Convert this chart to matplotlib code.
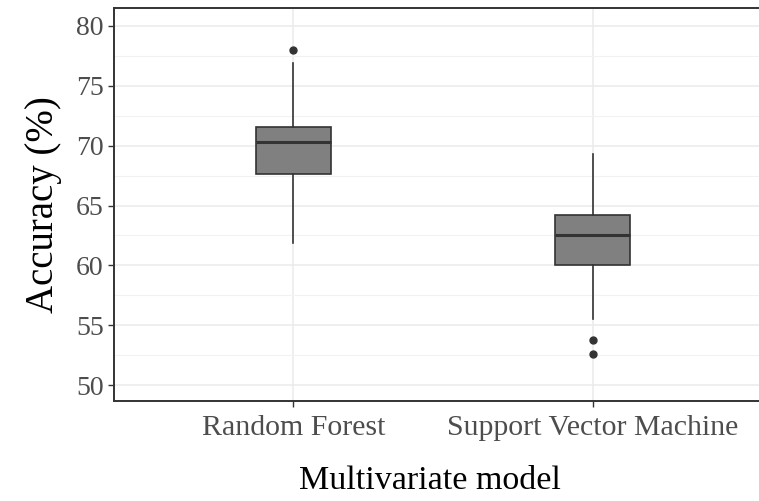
import matplotlib
matplotlib.use('Agg')
import matplotlib.pyplot as plt
from matplotlib.ticker import MultipleLocator

#%% data
models = ['Random Forest', 'Support Vector Machine']
q1 = [67.6, 60.0]
med = [70.3, 62.5]
q3 = [71.6, 64.2]
whislo = [61.9, 55.5]
whishi = [76.9, 69.3]
fliers = [[78.0], [53.8, 52.6]]
yticks = [50, 55, 60, 65, 70, 75, 80]

stats = []
for i in range(len(models)):
    stats.append(dict(label=models[i], q1=q1[i], med=med[i], q3=q3[i],
                      whislo=whislo[i], whishi=whishi[i], fliers=fliers[i]))

#%% plot
plt.rcParams['font.family'] = 'Liberation Serif'

fig = plt.figure(figsize=(7.59, 5.01), dpi=100)
# right edge of the panel is cut off in the original
ax = fig.add_axes([114/759, 1 - 401/501, (772 - 114)/759, (401 - 8)/501])

ax.bxp(stats, positions=[1, 2], widths=0.25, patch_artist=True,
       boxprops=dict(facecolor='#808080', edgecolor='#333333', linewidth=1.2),
       medianprops=dict(color='#333333', linewidth=2.2),
       whiskerprops=dict(color='#333333', linewidth=1.2),
       capprops=dict(linewidth=0),
       flierprops=dict(marker='o', markerfacecolor='#333333', markeredgecolor='#333333',
                       markersize=5),
       zorder=3)

ax.set_xlim(0.4, 2.6)
ax.set_ylim(48.67, 81.5)
ax.set_yticks(yticks)
ax.yaxis.set_minor_locator(MultipleLocator(2.5))

ax.grid(True, which='major', color='#EBEBEB', linewidth=1.1, zorder=0)
ax.grid(True, which='minor', axis='y', color='#F2F2F2', linewidth=0.8, zorder=0)
ax.set_axisbelow(True)

for s in ax.spines.values():
    s.set_color('#333333')
    s.set_linewidth(1.4)

ax.tick_params(axis='both', which='major', labelcolor='#4D4D4D',
               color='#333333', length=4, width=1)
ax.tick_params(axis='y', labelsize=20)
ax.tick_params(axis='x', labelsize=21.5, pad=6)
ax.tick_params(which='minor', length=0)

ax.set_xlabel('Multivariate model', fontsize=24.5)
ax.xaxis.set_label_coords(0.48, -0.163)
ax.set_ylabel('Accuracy (%)', fontsize=28, labelpad=10)

fig.savefig('out.png', dpi=100)
